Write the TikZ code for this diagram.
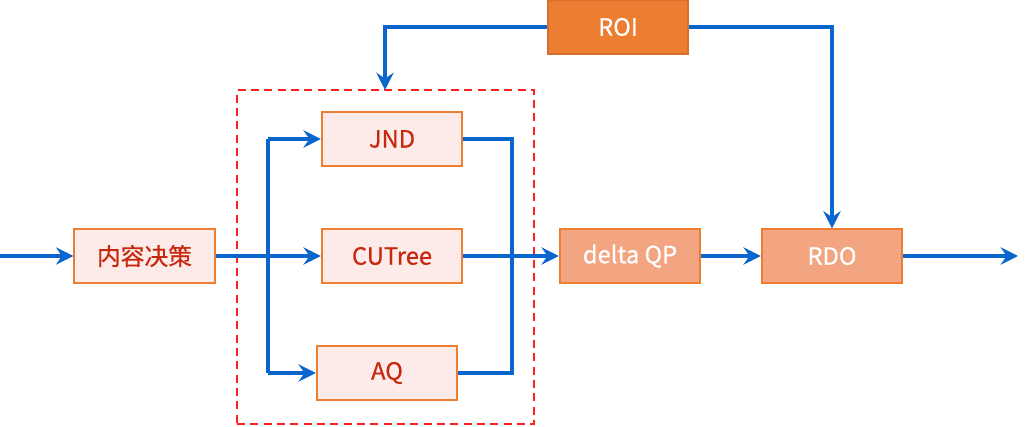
\documentclass[tikz,border=0pt]{standalone}
\usepackage{fontspec}
\setmainfont{Noto Sans CJK SC}
\newfontfamily\boxfont{Noto Sans CJK SC}[FakeBold=0.6]
\usetikzlibrary{arrows.meta}
\definecolor{lineblue}{HTML}{0A66CC}
\definecolor{boxedge}{HTML}{ED7D31}
\definecolor{lightfill}{HTML}{FCEBE8}
\definecolor{midfill}{HTML}{F3A582}
\definecolor{roifill}{HTML}{ED7D31}
\definecolor{redtext}{HTML}{C8280F}
\definecolor{dashred}{HTML}{FF2020}
\tikzset{
  base/.style={draw=boxedge, line width=1.3pt, minimum width=105.5pt, minimum height=40pt, inner sep=0pt, font=\boxfont\fontsize{17.8}{19}\selectfont},
  lightbox/.style={base, fill=lightfill, text=redtext},
  midbox/.style={base, fill=midfill, text=white},
  roibox/.style={base, fill=roifill, draw=roifill!90!black, text=white},
  conn/.style={draw=lineblue, line width=2.8pt},
  arr/.style={conn, -{Stealth[length=13pt, width=13pt, inset=4.5pt]}},
  groupbox/.style={draw=dashred, line width=1.3pt, dash pattern=on 6pt off 4pt}
}
\begin{document}
\begin{tikzpicture}[x=0.75pt, y=-0.75pt]
\useasboundingbox (0,0) rectangle (1035,427);
\node[groupbox, minimum width=223pt, minimum height=250.5pt, inner sep=0pt] (grp) at (385.5,257) {};
\node[lightbox] (nr) at (144.5,256) {内容决策};
\node[lightbox] (jnd) at (392,139) {JND};
\node[lightbox] (cut) at (392,256) {CUTree};
\node[lightbox] (aq) at (387,373) {AQ};
\node[midbox] (dqp) at (630,256) {delta QP};
\node[midbox] (rdo) at (832,256) {RDO};
\node[roibox] (roi) at (618,27) {ROI};
\coordinate (in) at (0,256);
\coordinate (out) at (1018,256);
\coordinate (split) at (268,256);
\coordinate (merge) at (512,256);
\coordinate (dtop) at (385,90);
% input
\draw[arr] (in) -- (nr.west);
\draw[arr] (nr.east) -- (cut.west);
\draw[arr] (split |- jnd.west) -- (jnd.west);
\draw[arr] (split |- aq.west) -- (aq.west);
\draw[conn] (split |- jnd.west) -- (split |- aq.west);
% merge
\draw[conn] (jnd.east) -| (merge) |- (aq.east);
\draw[arr] (cut.east) -- (dqp.west);
\draw[arr] (dqp.east) -- (rdo.west);
\draw[arr] (rdo.east) -- (out);
% ROI
\draw[arr] (roi.west) -| (dtop);
\draw[arr] (roi.east) -| (rdo.north);
\end{tikzpicture}
\end{document}
